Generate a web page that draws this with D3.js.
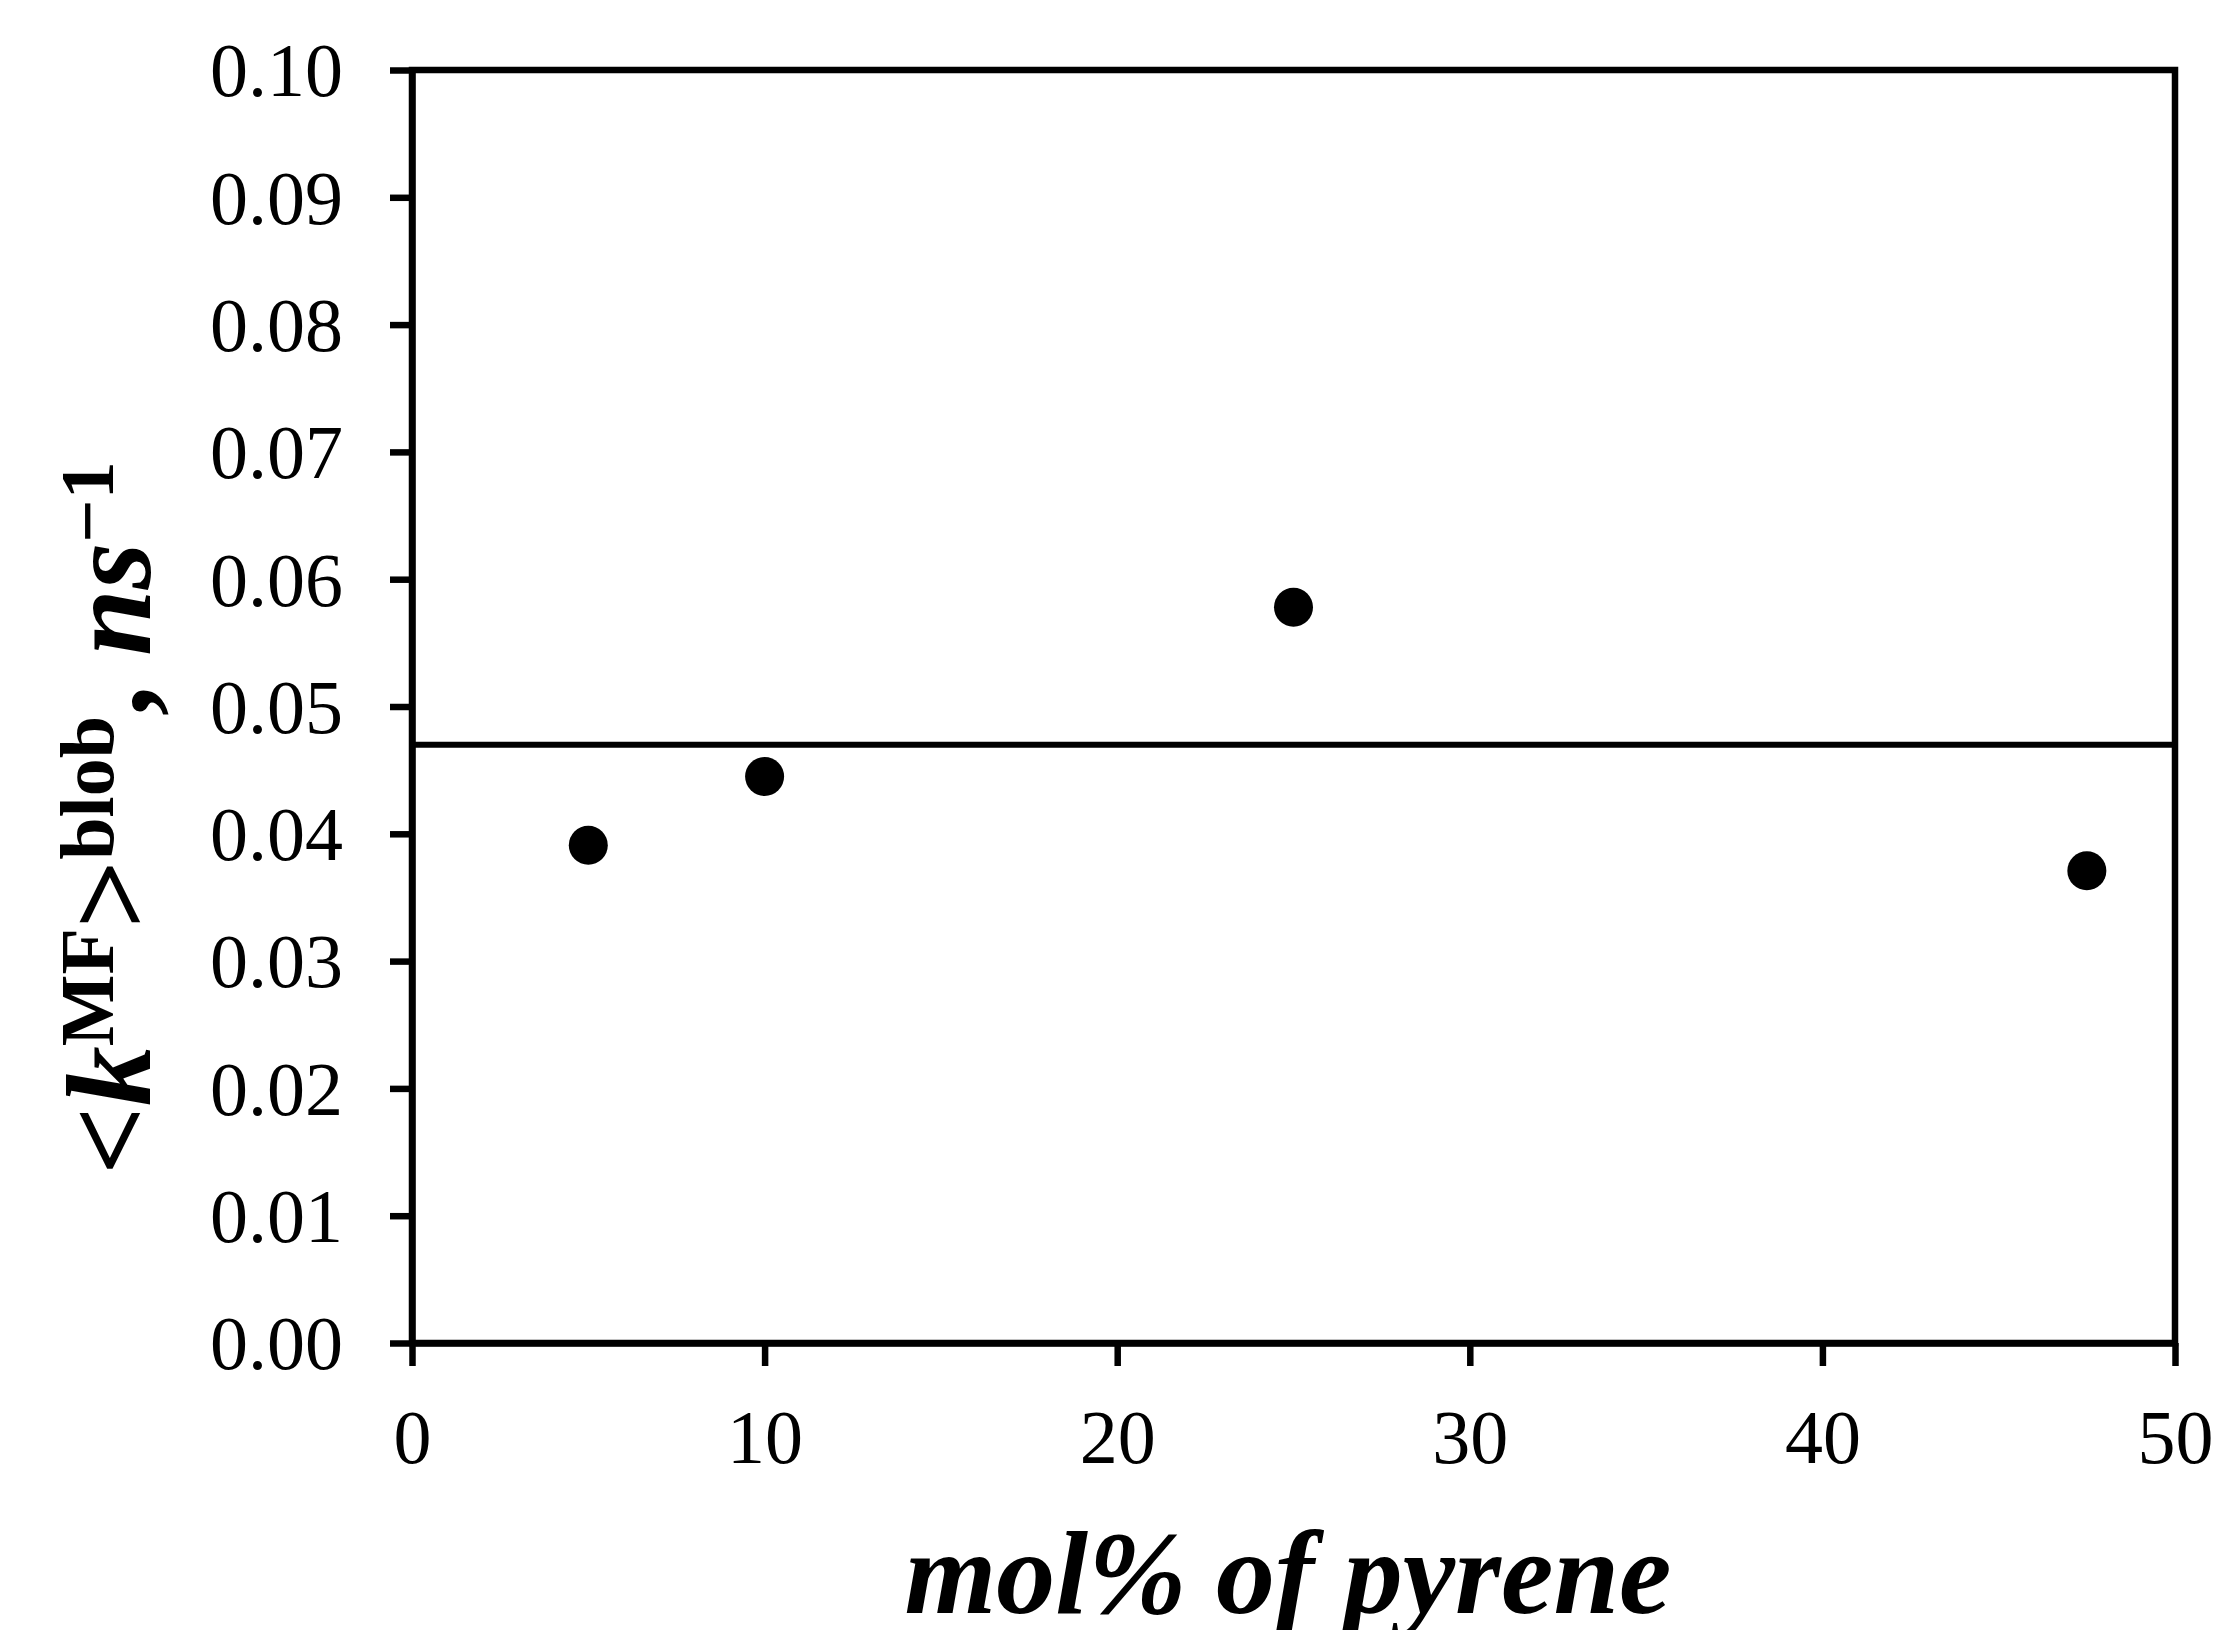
<!DOCTYPE html>
<html>
<head>
<meta charset="utf-8">
<script src="https://cdn.jsdelivr.net/npm/d3@7"></script>
<style>
  body { margin: 0; background: #fff; }
  text { font-family: "Liberation Serif", "Times New Roman", serif; fill: #000; }
</style>
</head>
<body>
<div id="graph"></div>
<script>
// values
var molPct = [5, 10, 25, 47.5]
var kBlob = [0.0391, 0.0445, 0.0578, 0.0371]
var meanK = 0.0470
var xTicks = [0, 10, 20, 30, 40, 50]
var yTicks = [0, 0.01, 0.02, 0.03, 0.04, 0.05, 0.06, 0.07, 0.08, 0.09, 0.10]

var W = 2222, H = 1630
var margin = {left: 412, top: 70, right: 47, bottom: 287}
var width = W - margin.left - margin.right
var height = H - margin.top - margin.bottom

var svg = d3.select('#graph').append('svg')
  .attr('width', W).attr('height', H)

var g = svg.append('g').attr('transform', `translate(${margin.left},${margin.top})`)

var x = d3.scaleLinear().domain([0, 50]).range([0, width])
var y = d3.scaleLinear().domain([0, 0.10]).range([height, 0])

var lw = 6.5

// frame
g.append('rect')
  .attr('width', width).attr('height', height)
  .attr('fill', 'none').attr('stroke', '#000').attr('stroke-width', lw)

var xAxis = g.append('g')
  .attr('transform', `translate(0,${height})`)
  .call(d3.axisBottom(x).tickValues(xTicks).tickSize(23).tickSizeOuter(0).tickPadding(43))
var yAxis = g.append('g')
  .call(d3.axisLeft(y).tickValues(yTicks).tickFormat(d3.format('.2f')).tickSize(22).tickSizeOuter(0).tickPadding(47))

;[xAxis, yAxis].forEach(a => {
  a.selectAll('path, line').attr('stroke', '#000').attr('stroke-width', lw)
  a.selectAll('text').attr('font-size', 76).attr('font-family', '"Liberation Serif", serif').attr('fill', '#000')
})
xAxis.selectAll('text').attr('dy', '0.71em')
yAxis.selectAll('text').attr('dy', '0.34em')

// mean line
g.append('line')
  .attr('x1', 0).attr('x2', width)
  .attr('y1', y(meanK)).attr('y2', y(meanK))
  .attr('stroke', '#000').attr('stroke-width', 6)

// points
g.selectAll('circle.pt').data(molPct).join('circle')
  .attr('class', 'pt')
  .attr('cx', d => x(d))
  .attr('cy', (d, i) => y(kBlob[i]))
  .attr('r', 19.5)
  .attr('fill', '#000')

// x title
svg.append('text')
  .attr('x', 1288).attr('y', 1613)
  .attr('text-anchor', 'middle')
  .attr('font-size', 118).attr('font-weight', 'bold').attr('font-style', 'italic')
  .text('mol% of pyrene')

// y title
var yt = svg.append('text')
  .attr('transform', 'translate(150,818) rotate(-90)')
  .attr('text-anchor', 'middle')
  .attr('font-size', 120).attr('font-weight', 'bold')
yt.append('tspan').text('<')
yt.append('tspan').attr('font-style', 'italic').text('k')
yt.append('tspan').attr('font-size', 76).attr('dy', -37).text('MF')
yt.append('tspan').attr('dy', 37).text('>')
yt.append('tspan').attr('font-size', 76).attr('dy', -37).text('blob')
yt.append('tspan').attr('dy', 37).text(', ')
yt.append('tspan').attr('font-style', 'italic').text('ns')
yt.append('tspan').attr('font-size', 76).attr('dy', -37).text('\u22121')
</script>
</body>
</html>
